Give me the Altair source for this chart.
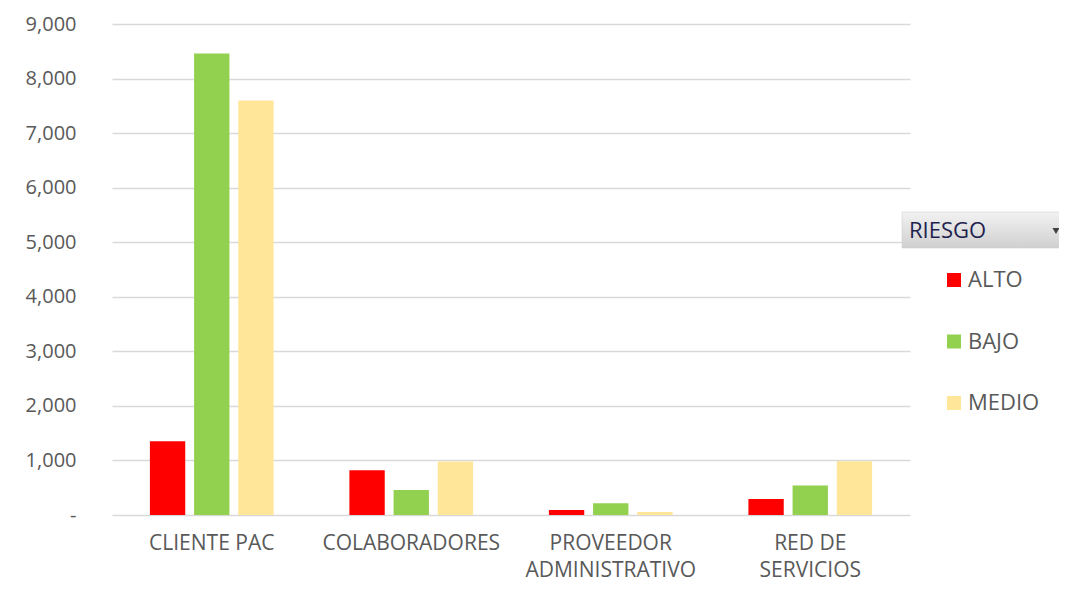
import altair as alt
import pandas as pd

categories = ["CLIENTE PAC", "COLABORADORES", "PROVEEDOR ADMINISTRATIVO", "RED DE SERVICIOS"]
riesgo = ["ALTO", "BAJO", "MEDIO"]
alto = [1350, 820, 90, 295]
bajo = [8460, 460, 215, 540]
medio = [7600, 980, 55, 985]
colors = ["#FF0000", "#92D050", "#FFE699"]
label_lines = {
    "PROVEEDOR ADMINISTRATIVO": ["PROVEEDOR", "ADMINISTRATIVO"],
    "RED DE SERVICIOS": ["RED DE", "SERVICIOS"],
}

rows = []
for i, c in enumerate(categories):
    for r, vals in zip(riesgo, [alto, bajo, medio]):
        rows.append({"categoria": c, "riesgo": r, "valor": vals[i]})
df = pd.DataFrame(rows)

expr = "datum.label"
for k, v in label_lines.items():
    expr = f"datum.label == '{k}' ? ['{v[0]}', '{v[1]}'] : ({expr})"

FONT = "Open Sans"
GRAY = "#595959"
W, H = 798, 491

bars = alt.Chart(df).mark_bar().encode(
    x=alt.X("categoria:N", sort=categories, title=None,
            scale=alt.Scale(paddingInner=0.38, paddingOuter=0.19),
            axis=alt.Axis(labelAngle=0, labelExpr=expr, labelFontSize=21, labelColor=GRAY,
                          labelFont=FONT, labelPadding=17, labelLineHeight=27, labelLimit=0,
                          ticks=False, domain=False)),
    xOffset=alt.XOffset("riesgo:N", sort=riesgo, scale=alt.Scale(paddingInner=0.2, paddingOuter=0)),
    y=alt.Y("valor:Q", title=None,
            scale=alt.Scale(domain=[0, 9000], nice=False),
            axis=alt.Axis(values=list(range(0, 9001, 1000)),
                          labelExpr="datum.value == 0 ? '-' : format(datum.value, ',')",
                          labelFontSize=20, labelColor=GRAY, labelFont=FONT, labelPadding=36,
                          ticks=False, domain=False, gridColor="#D9D9D9", gridWidth=1.5)),
    color=alt.Color("riesgo:N", sort=riesgo, scale=alt.Scale(domain=riesgo, range=colors),
                    legend=alt.Legend(title=None, orient="none", legendX=831, legendY=245,
                                      symbolType="square", symbolSize=196, symbolStrokeWidth=0,
                                      labelFontSize=22, labelColor=GRAY, labelFont=FONT,
                                      labelOffset=3, rowPadding=39.5, padding=0)),
)

hdr = pd.DataFrame({"t": ["RIESGO"]})
box = alt.Chart(hdr).mark_rect(
    fill=alt.Gradient(gradient="linear", x1=0, y1=0, x2=0, y2=1,
                      stops=[alt.GradientStop(color="#F2F2F2", offset=0),
                             alt.GradientStop(color="#D0D0D0", offset=1)]),
    stroke="#C8C8C8", strokeWidth=0.5,
).encode(x=alt.value(790), x2=alt.value(960), y=alt.value(188), y2=alt.value(224))
title = alt.Chart(hdr).mark_text(align="left", baseline="middle", fontSize=22, font=FONT,
                                 color="#1F1F4F").encode(
    x=alt.value(797), y=alt.value(207), text="t:N")
arrow = alt.Chart(hdr).mark_point(shape="triangle-down", filled=True, color="#404040",
                                  size=50, opacity=1).encode(x=alt.value(944), y=alt.value(207))

chart = alt.layer(bars, box, title, arrow).properties(
    width=W, height=H,
    autosize=alt.AutoSizeParams(type="none"),
    padding={"left": 104, "top": 16, "right": 149, "bottom": 67},
).configure(font=FONT, view=alt.ViewConfig(stroke=None, strokeWidth=0))

chart.save("out.html", embed_options={"renderer": "svg", "actions": False})
